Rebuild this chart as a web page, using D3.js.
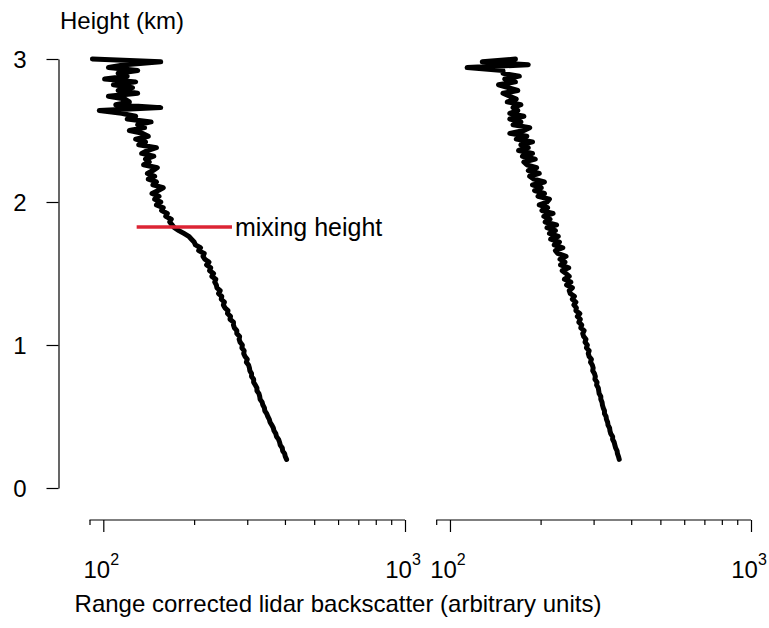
<!DOCTYPE html>
<html><head><meta charset="utf-8">
<script src="https://cdn.jsdelivr.net/npm/d3@7"></script>
<style>
body{margin:0;background:#fff}
svg{display:block}
text{font-family:Arial,"Liberation Sans",Helvetica,sans-serif;fill:#000}
</style>
</head><body>
<svg id="chart" width="769" height="628"></svg>
<script>
// ---- data ----
const heights = [
 0.20,0.22,0.24,0.26,0.28,0.30,0.32,0.34,0.36,0.38,
 0.40,0.42,0.44,0.46,0.48,0.50,0.52,0.54,0.56,0.58,
 0.60,0.62,0.64,0.66,0.68,0.70,0.72,0.74,0.76,0.78,
 0.80,0.82,0.84,0.86,0.88,0.90,0.92,0.94,0.96,0.98,
 1.00,1.02,1.04,1.06,1.08,1.10,1.12,1.14,1.16,1.18,
 1.20,1.22,1.24,1.26,1.28,1.30,1.32,1.34,1.36,1.38,
 1.40,1.42,1.44,1.46,1.48,1.50,1.52,1.54,1.56,1.58,
 1.60,1.62,1.64,1.66,1.68,1.70,1.72,1.74,1.76,1.78,
 1.80,1.82,1.84,1.86,1.88,1.90,1.92,1.94,1.96,1.98,
 2.00,2.02,2.04,2.06,2.08,2.10,2.12,2.14,2.16,2.18,
 2.20,2.22,2.24,2.26,2.28,2.30,2.32,2.34,2.36,2.38,
 2.40,2.42,2.44,2.46,2.48,2.50,2.52,2.54,2.56,2.58,
 2.60,2.62,2.64,2.66,2.68,2.70,2.72,2.74,2.76,2.78,
 2.80,2.82,2.84,2.86,2.88,2.90,2.92,2.94,2.96,2.98,
 3.00
];
const leftProfile = [
 405,401,399,393,392,386,384,381,375,373,
 368,366,362,357,355,351,348,343,342,338,
 336,331,330,328,323,323,319,315,315,310,
 310,306,305,303,298,300,295,292,293,288,
 289,284,282,283,277,277,272,270,270,263,
 264,258,259,253,250,252,246,247,241,244,
 238,237,234,236,229,232,225,227,220,224,
 217,214,216,207,210,202,200,196,192,185,
 178,172,169,166,168,161,163,156,158,150,
 155,148,153,145,152,158,146,150,141,148,
 140,146,151,136,142,138,147,134,140,150,
 131,138,128,141,135,122,137,130,144,120,
 128,115,97,155,110,122,118,104,130,112,
 125,108,128,101,120,112,130,104,118,155,
 92
];
const rightProfile = [
 365,363,360,359,355,353,351,347,347,342,
 340,339,335,334,331,330,326,326,323,321,
 320,317,317,313,312,311,307,308,303,304,
 302,298,299,297,293,295,290,288,290,284,
 286,281,283,278,276,279,272,274,268,271,
 265,270,262,263,258,262,255,259,251,249,
 255,244,252,240,249,243,236,248,233,241,
 232,243,228,224,237,222,231,216,229,214,
 224,210,226,207,215,205,220,202,211,198,
 210,214,196,206,191,201,188,206,190,184,
 198,182,194,180,176,192,174,188,169,182,
 172,188,166,180,158,176,184,162,172,158,
 176,158,168,162,172,155,166,158,150,168,
 156,145,165,152,170,150,150,114,182,128,
 165
];
const mixingHeight = 1.825;          // km
const mixingRange = [129, 267];      // backscatter extent of the red marker
const mixingLabel = "mixing height";
const yTicks = [0, 1, 2, 3];
const majorTicks = [100, 1000];
const minorTicks = [90, 200, 300, 400, 500, 600, 700, 800, 900];
const majorTickLabels = [["10", "2"], ["10", "3"]];
const yTitle = "Height (km)";
const xTitle = "Range corrected lidar backscatter (arbitrary units)";

// ---- drawing ----
const svg = d3.select("#chart");
const FS = 24;

const y = d3.scaleLinear().domain([0, 3]).range([488, 59]);
const panels = [
  {data: leftProfile,  x: d3.scaleLog().domain([90, 1000]).range([89.5, 405])},
  {data: rightProfile, x: d3.scaleLog().domain([90, 1000]).range([436.2, 751])}
];

// y axis
const yAxis = d3.axisLeft(y).tickValues(yTicks).tickSize(12).tickSizeOuter(0).tickPadding(20).tickFormat(d3.format("d"));
const yg = svg.append("g").attr("transform", "translate(58.5,0)").call(yAxis);
yg.select(".domain").attr("stroke", "#000").attr("stroke-width", 1.2);
yg.selectAll(".tick line").attr("stroke", "#000").attr("stroke-width", 1.2);
yg.selectAll(".tick text").attr("font-size", FS).attr("font-family", "Arial,'Liberation Sans',sans-serif").attr("fill", "#000").attr("dy", "0.36em");

// y title
svg.append("text").attr("x", 60).attr("y", 29).attr("font-size", FS).text(yTitle);

// x axes
const axisY = 520;
panels.forEach(p => {
  const g = svg.append("g").attr("transform", `translate(0,${axisY})`);
  const minorAxis = d3.axisBottom(p.x).tickValues(minorTicks).tickSize(5).tickSizeOuter(0).tickFormat("");
  const gm = g.append("g").call(minorAxis);
  gm.select(".domain").attr("stroke", "#000").attr("stroke-width", 1.2)
    .attr("d", `M${p.x(90)},0H${p.x(1000)}`);
  gm.selectAll(".tick line").attr("stroke", "#000").attr("stroke-width", 1.2);
  const majorAxis = d3.axisBottom(p.x).tickValues(majorTicks).tickSize(12).tickSizeOuter(0).tickFormat("");
  const gM = g.append("g").call(majorAxis);
  gM.select(".domain").remove();
  gM.selectAll(".tick line").attr("stroke", "#000").attr("stroke-width", 1.2);
  majorTicks.forEach((v, i) => {
    const t = svg.append("text").attr("x", p.x(v) - 2).attr("y", 578)
      .attr("text-anchor", "middle").attr("font-size", FS);
    t.append("tspan").text(majorTickLabels[i][0]);
    t.append("tspan").attr("font-size", 16).attr("dy", -13).text(majorTickLabels[i][1]);
  });

  const line = d3.line().x(d => p.x(d)).y((d, i) => y(heights[i])).curve(d3.curveLinear);
  svg.append("path").datum(p.data).attr("d", line)
    .attr("fill", "none").attr("stroke", "#000").attr("stroke-width", 5)
    .attr("stroke-linejoin", "round").attr("stroke-linecap", "round");
});

// mixing height marker (left panel)
const xl = panels[0].x;
svg.append("line").attr("x1", xl(mixingRange[0])).attr("x2", xl(mixingRange[1]))
  .attr("y1", y(mixingHeight)).attr("y2", y(mixingHeight))
  .attr("stroke", "#dc2434").attr("stroke-width", 3.5);
svg.append("text").attr("x", xl(mixingRange[1]) + 3).attr("y", y(mixingHeight) + 8.5)
  .attr("font-size", FS + 1).text(mixingLabel);

// x title
svg.append("text").attr("x", 338).attr("y", 612).attr("text-anchor", "middle").attr("font-size", FS).text(xTitle);
</script>
</body></html>
